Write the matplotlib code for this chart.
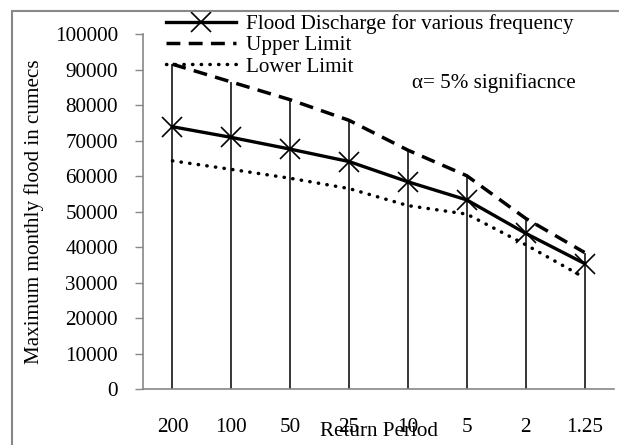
import matplotlib
matplotlib.use("Agg")
import matplotlib.pyplot as plt
from matplotlib.patches import Rectangle

# return periods (categories) and flood values in cumecs
periods = ['200', '100', '50', '25', '10', '5', '2', '1.25']
flood = [73900, 70900, 67600, 64100, 58400, 53300, 43900, 35400]
upper = [91500, 86500, 81500, 75700, 67300, 60100, 48100, 38500]
lower = [64300, 61900, 59400, 56500, 51700, 49300, 40700, 31400]

plt.rcParams['font.family'] = ['Liberation Serif', 'DejaVu Serif']
fs = 15.2

fig = plt.figure(figsize=(6.19, 4.45), dpi=100)
ax = fig.add_axes([143/619, 1 - 389.3/445, (614 - 143)/619, (389.3 - 34)/445])

x = list(range(len(periods)))

# vertical lines from axis up to upper limit
ax.vlines(x, 0, upper, color='black', lw=1.1, zorder=1)

ax.plot(x, flood, color='black', lw=2.4, marker='x', markersize=15,
        markeredgewidth=1.2, label='Flood Discharge for various frequency', zorder=3)
ax.plot(x, upper, color='black', lw=2.5, dashes=(4.0, 2.4),
        label='Upper Limit', zorder=2)
ax.plot(x, lower, color='black', lw=2.5, dashes=(0.1, 2.4),
        dash_capstyle='round', label='Lower Limit', zorder=2)

ax.set_xlim(-0.5, 7.5)
ax.set_ylim(0, 100000)
ax.set_yticks(range(0, 100001, 10000))
ax.set_xticks(x)
ax.set_xticklabels(periods)
ax.tick_params(axis='x', length=0, labelsize=fs, pad=21)
ax.tick_params(axis='y', length=6, width=1, color='#888888', labelsize=fs, pad=12)

for s in ['top', 'right']:
    ax.spines[s].set_visible(False)
for s in ['left', 'bottom']:
    ax.spines[s].set_color('#888888')
    ax.spines[s].set_linewidth(1.2)

ax.set_ylabel('Maximum monthly flood in cumecs', fontsize=fs, labelpad=8)
ax.set_xlabel('Return Period', fontsize=fs, labelpad=-11)

ax.legend(loc='upper left', bbox_to_anchor=(166/619, 1 - 14/445),
          bbox_transform=fig.transFigure, frameon=False, fontsize=fs,
          handlelength=3.3, handletextpad=0.5, labelspacing=0.08,
          borderpad=0, borderaxespad=0)

fig.text(412/619, 1 - 83/445, 'α= 5% signifiacnce', fontsize=fs, va='center')

# chart area border
fig.patches.append(Rectangle((12/619, -0.05), 1.0, 1 - 11/445 + 0.05,
                             transform=fig.transFigure, fill=False,
                             edgecolor='#888888', lw=1.5))

fig.savefig('out.png', dpi=100)
